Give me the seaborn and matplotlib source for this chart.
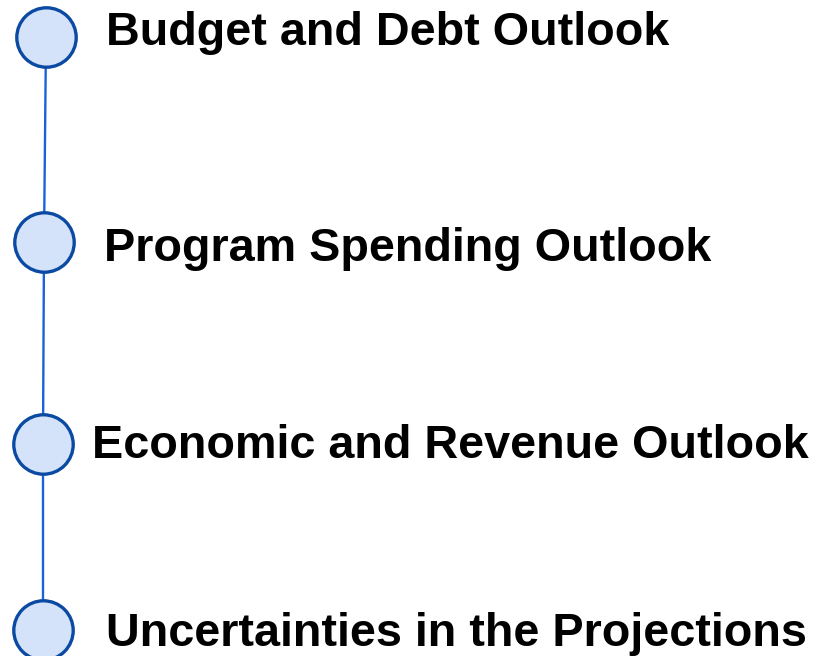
import pandas as pd
import matplotlib.pyplot as plt
import seaborn as sns

# timeline steps (top to bottom)
labels = ["Budget and Debt Outlook",
          "Program Spending Outlook",
          "Economic and Revenue Outlook",
          "Uncertainties in the Projections"]
node_x = [46, 44, 43, 43]
node_y = [37, 242, 444, 630]
label_x = [106, 104, 92, 106]
label_y = [45, 261, 458, 646]

df = pd.DataFrame({"x": node_x, "y": node_y, "label": labels})

sns.set_theme(style="white")
plt.rcParams['font.family'] = ['Liberation Sans', 'DejaVu Sans']

fig = plt.figure(figsize=(8.18, 6.56), dpi=100)
ax = fig.add_axes([0, 0, 1, 1])

# connecting line
sns.lineplot(data=df, x="x", y="y", sort=False, estimator=None,
             color="#1a62d6", linewidth=1.7, ax=ax, zorder=1)

# nodes
sns.scatterplot(data=df, x="x", y="y", s=1830, color="#d4e3fa",
                edgecolor="#0b4aa2", linewidth=2.4, ax=ax, zorder=2, legend=False)

for lx, ly, txt in zip(label_x, label_y, labels):
    ax.text(lx, ly, txt, fontsize=33.7, fontweight="bold", color="black",
            ha="left", va="baseline")

ax.set_xlim(0, 818)
ax.set_ylim(656, 0)
ax.axis("off")

fig.savefig("out.png", dpi=100)
